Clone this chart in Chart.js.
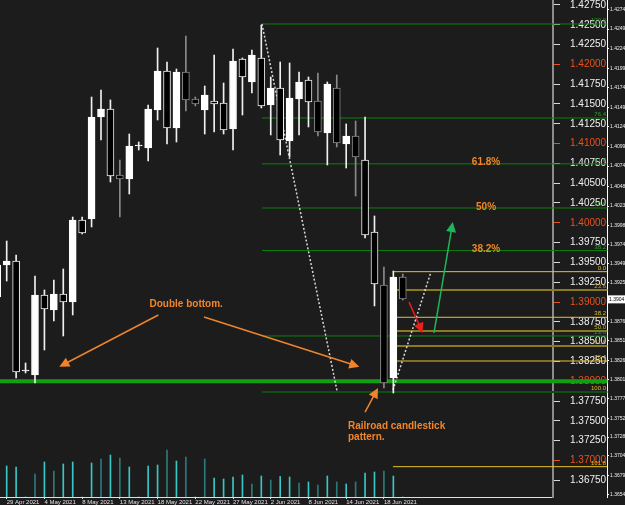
<!DOCTYPE html>
<html>
<head>
<meta charset="utf-8">
<script src="https://cdn.jsdelivr.net/npm/chart.js@4.4.0/dist/chart.umd.min.js"></script>
<style>
  html, body { margin: 0; padding: 0; background: #1c1c1c; }
  #wrap { width: 625px; height: 505px; }
</style>
</head>
<body>
<div id="wrap"><canvas id="chart" width="625" height="505"></canvas></div>
<script>
// candle index of the first entry (one half-hidden candle left of 29 Apr)
const firstCandle = -1;

const opens  = [1.39063, 1.39467, 1.39518, 1.38129, 1.38078, 1.39088, 1.38899, 1.39101, 1.39000, 1.40035,
                1.40048, 1.41336, 1.41437, 1.40604, 1.40553, 1.40970, 1.40944, 1.41424, 1.41917, 1.41197,
                1.41904, 1.41563, 1.41424, 1.41538, 1.41513, 1.41184, 1.42068, 1.41778, 1.42081, 1.41487,
                1.41702, 1.41033, 1.41563, 1.41803, 1.41538, 1.41134, 1.41702, 1.40995, 1.41096, 1.40793,
                1.39884, 1.39215, 1.38040, 1.39316];
const highs  = [1.39560, 1.39770, 1.39594, 1.38230, 1.39328, 1.39152, 1.39278, 1.39417, 1.40073, 1.40073,
                1.41588, 1.41677, 1.41551, 1.40793, 1.41121, 1.41020, 1.41487, 1.42207, 1.42030, 1.41942,
                1.42359, 1.41588, 1.41727, 1.42119, 1.41765, 1.42194, 1.42081, 1.42182, 1.42497, 1.41841,
                1.42030, 1.42018, 1.41904, 1.41841, 1.41891, 1.41778, 1.41866, 1.41248, 1.41285, 1.41336,
                1.40086, 1.39442, 1.39391, 1.39353];
const lows   = [1.39025, 1.39265, 1.38040, 1.38104, 1.37977, 1.38394, 1.38760, 1.38571, 1.38836, 1.39859,
                1.39947, 1.41045, 1.40515, 1.40073, 1.40364, 1.40919, 1.40780, 1.41298, 1.40995, 1.41020,
                1.41412, 1.41475, 1.41121, 1.41146, 1.41121, 1.40919, 1.41361, 1.41639, 1.41450, 1.41109,
                1.40856, 1.40831, 1.41109, 1.41210, 1.41096, 1.40730, 1.40957, 1.40692, 1.40338, 1.39808,
                1.38950, 1.37914, 1.37851, 1.39025];
const closes = [1.39467, 1.39518, 1.38116, 1.38141, 1.39088, 1.38912, 1.39101, 1.39000, 1.40035, 1.39871,
                1.41336, 1.41437, 1.40591, 1.40553, 1.40970, 1.40982, 1.41437, 1.41917, 1.41197, 1.41904,
                1.41551, 1.41500, 1.41614, 1.41500, 1.41172, 1.42043, 1.41841, 1.42119, 1.41475, 1.41702,
                1.41045, 1.41576, 1.41778, 1.41525, 1.41146, 1.41753, 1.41008, 1.41096, 1.40831, 1.39846,
                1.39227, 1.37977, 1.39316, 1.39038];
const volumes = [0, 3100, 3000, 0, 2300, 3500, 2600, 3300, 3500, 0,
                 3400, 3800, 4200, 3900, 3000, 0, 3100, 3200, 4700, 3600,
                 4000, 0, 3800, 1900, 1800, 2000, 2200, 1300, 2100, 1700,
                 2050, 2000, 1400, 1500, 1200, 2100, 1500, 1300, 1500, 2400,
                 2500, 2600, 2100, 0];

const dates = ['29 Apr 2021', '4 May 2021', '8 May 2021', '13 May 2021', '18 May 2021', '22 May 2021',
               '27 May 2021', '2 Jun 2021', '8 Jun 2021', '14 Jun 2021', '18 Jun 2021'];
const priceTicks = [1.3675, 1.37, 1.3725, 1.375, 1.3775, 1.38, 1.3825, 1.385, 1.3875, 1.39, 1.3925,
                    1.395, 1.3975, 1.40, 1.4025, 1.405, 1.4075, 1.41, 1.4125, 1.415, 1.4175, 1.42,
                    1.4225, 1.425, 1.4275];
// the narrow price strip at the far right
const stripTicks = [1.4274, 1.4249, 1.4224, 1.4199, 1.4174, 1.4149, 1.4124, 1.4099, 1.4074, 1.4048,
                    1.4023, 1.3998, 1.3974, 1.3949, 1.3925, 1.3876, 1.3851, 1.3826, 1.3801, 1.3777,
                    1.3752, 1.3728, 1.3704, 1.3679, 1.3654];

// fibonacci levels and the support line
const greenFib = [1.42510, 1.41323, 1.40744, 1.40187, 1.39650, 1.38571];
const greenFibNames = ['100.0', '76.4', '61.8', '50.0', '38.2', '23.6'];
const greenFibLow = 1.37864;
const yellowFib = [1.39383, 1.38807, 1.38255, 1.37864, 1.36921];
const yellowFibNames = ['0.0', '38.2', '76.4', '100.0', '161.8'];
const oliveFib = [1.39152, 1.38634, 1.38444];
const oliveFibNames = ['23.6', '50.0', '61.8'];
const support = 1.38000;

// annotations in (candle index, price)
const arrows = [
  { from: [16.08, 1.38836], to: [5.58, 1.38183], color: '#f0842a' },
  { from: [20.92, 1.38811], to: [37.39, 1.38183], color: '#f0842a' },
  { from: [38.0, 1.37610], to: [39.37, 1.37914], color: '#f0842a' },
  { from: [45.31, 1.38609], to: [47.30, 1.40010], color: '#1fb55a' },
  { from: [42.66, 1.39000], to: [44.11, 1.38609], color: '#e82020' }
];
const dotted = [
  [[27.07, 1.42510], [35.03, 1.37877]],
  [[40.96, 1.37889], [44.99, 1.39379]]
];
const notes = [
  { text: 'Double bottom.', x: 19.03, p: 1.38975, align: 'center' },
  { text: 'Railroad candlestick', x: 36.19, p: 1.37434, align: 'left' },
  { text: 'pattern.', x: 36.19, p: 1.37295, align: 'left' },
  { text: '61.8%', x: 50.83, p: 1.40760, align: 'center' },
  { text: '50%', x: 50.83, p: 1.40198, align: 'center' },
  { text: '38.2%', x: 50.83, p: 1.39661, align: 'center' }
];

const greyOutline = [12, 19, 20, 33, 35, 37, 40, 42];
const dimVolume = [3, 5, 10, 12, 17, 19, 21, 26, 28, 31, 33, 35, 37, 40];

const orange = '#f0862a';
const roundColor = '#e8521c';
const xMin = -0.71, xMax = 57.93, xFar = 63.7, xLabel = 63.55;
const yMin = 1.36538, yMax = 1.42813;
const stripMin = 1.36514, stripMax = 1.42861;

const idx = opens.map((_, k) => k + firstCandle);
const isBull = k => closes[k] >= opens[k];
const edge = k => greyOutline.includes(idx[k]) ? '#8a8a8a' : '#f0f0f0';
const isRound = v => Math.abs(v * 100 - Math.round(v * 100)) < 1e-6;
const noPad = s => { s.paddingLeft = 0; s.paddingRight = 0; s.paddingTop = 0; s.paddingBottom = 0; };

function hline(level, from, color, width) {
  return {
    type: 'line', data: [{ x: from, y: level }, { x: xFar, y: level }],
    borderColor: color, borderWidth: width, pointRadius: 0, clip: false, order: 5, yAxisID: 'y'
  };
}

const datasets = [
  {
    data: idx.map((x, k) => ({ x, y: volumes[k] })), yAxisID: 'yv', barThickness: 1, grouped: false, order: 4,
    backgroundColor: idx.map(x => dimVolume.includes(x) ? '#2c7a78' : '#38c6c6')
  },
  {
    data: idx.map((x, k) => ({ x, y: [lows[k], highs[k]] })), yAxisID: 'y', barThickness: 1, grouped: false, order: 1,
    backgroundColor: idx.map((_, k) => edge(k))
  },
  {
    data: idx.map((x, k) => ({ x, y: [opens[k], closes[k]] })), yAxisID: 'y', barThickness: 7, grouped: false, order: 0,
    minBarLength: 1, borderWidth: 1, borderSkipped: false,
    backgroundColor: idx.map((_, k) => isBull(k) ? '#ffffff' : '#000000'),
    borderColor: idx.map((_, k) => isBull(k) ? '#ffffff' : edge(k))
  }
];
greenFib.forEach(l => datasets.push(hline(l, 27.07, '#0b800b', 1)));
datasets.push(hline(greenFibLow, 27.07, '#0f4f10', 2));
datasets.push(hline(support, xMin, '#12a012', 4));
yellowFib.filter(l => l !== greenFibLow).forEach(l => datasets.push(hline(l, 40.96, '#e6c229', 1)));
oliveFib.forEach(l => datasets.push(hline(l, 40.96, '#8a7a1c', 2)));
dotted.forEach(([a, b]) => datasets.push({
  type: 'line', data: [{ x: a[0], y: a[1] }, { x: b[0], y: b[1] }], yAxisID: 'y',
  borderColor: '#d8d8d8', borderWidth: 1.5, borderDash: [2, 2], pointRadius: 0, order: 2
}));

const overlay = {
  id: 'overlay',
  afterDatasetsDraw(chart) {
    const { ctx } = chart;
    const x = chart.scales.x, y = chart.scales.y, ys = chart.scales.ys;
    ctx.save();
    arrows.forEach(a => {
      const x1 = x.getPixelForValue(a.from[0]), y1 = y.getPixelForValue(a.from[1]);
      const x2 = x.getPixelForValue(a.to[0]), y2 = y.getPixelForValue(a.to[1]);
      const ang = Math.atan2(y2 - y1, x2 - x1);
      ctx.strokeStyle = a.color; ctx.fillStyle = a.color; ctx.lineWidth = 1.5;
      ctx.beginPath(); ctx.moveTo(x1, y1);
      ctx.lineTo(x2 - 8 * Math.cos(ang), y2 - 8 * Math.sin(ang)); ctx.stroke();
      ctx.beginPath(); ctx.moveTo(x2, y2);
      ctx.lineTo(x2 - 10 * Math.cos(ang) + 5 * Math.sin(ang), y2 - 10 * Math.sin(ang) - 5 * Math.cos(ang));
      ctx.lineTo(x2 - 10 * Math.cos(ang) - 5 * Math.sin(ang), y2 - 10 * Math.sin(ang) + 5 * Math.cos(ang));
      ctx.closePath(); ctx.fill();
    });
    ctx.font = 'bold 10px "Liberation Sans", Arial, sans-serif';
    ctx.fillStyle = orange;
    ctx.textBaseline = 'middle';
    notes.forEach(n => {
      ctx.textAlign = n.align;
      ctx.fillText(n.text, x.getPixelForValue(n.x), y.getPixelForValue(n.p));
    });

    // small level names at the right end of each fibonacci line
    ctx.font = '6px "Liberation Sans", Arial, sans-serif';
    ctx.textAlign = 'right';
    ctx.textBaseline = 'bottom';
    const lx = x.getPixelForValue(xLabel);
    const tag = (levels, names, color) => {
      ctx.fillStyle = color;
      levels.forEach((l, k) => ctx.fillText(names[k], lx, y.getPixelForValue(l) - 0.5));
    };
    tag(greenFib, greenFibNames, '#2aa02a');
    tag(yellowFib, yellowFibNames, '#e0bc2a');
    tag(oliveFib, oliveFibNames, '#c8aa2a');

    // current price box on the strip
    const last = closes[closes.length - 1];
    const py = ys.getPixelForValue(last);
    ctx.fillStyle = '#ffffff';
    ctx.fillRect(ys.left + 1, py - 4, ys.right - ys.left - 1, 8);
    ctx.fillStyle = '#000000';
    ctx.font = '5px "Liberation Sans", Arial, sans-serif';
    ctx.textAlign = 'left';
    ctx.textBaseline = 'middle';
    ctx.fillText(last.toFixed(4), ys.left + 2, py);
    ctx.restore();
  }
};

new Chart(document.getElementById('chart'), {
  type: 'bar',
  data: { datasets },
  options: {
    responsive: false,
    animation: false,
    layout: { padding: 0 },
    plugins: { legend: { display: false }, tooltip: { enabled: false } },
    scales: {
      x: {
        type: 'linear', min: xMin, max: xMax, offset: false,
        afterBuildTicks: s => { s.ticks = dates.map((_, k) => ({ value: k * 4 })); },
        afterFit: s => { s.height = 8; noPad(s); },
        border: { color: '#e0e0e0', width: 1 },
        grid: { offset: false, drawOnChartArea: false, drawTicks: true, tickLength: 2, tickColor: '#e0e0e0' },
        ticks: {
          color: '#e0e0e0', font: { size: 6, family: 'Liberation Sans' }, padding: 0,
          align: 'start', maxRotation: 0, autoSkip: false,
          callback: (v, i) => dates[i]
        }
      },
      y: {
        position: 'right', min: yMin, max: yMax,
        afterBuildTicks: s => { s.ticks = priceTicks.map(v => ({ value: v })); },
        afterFit: s => { s.width = 54; noPad(s); },
        border: { color: '#8c8c8c', width: 2 },
        grid: {
          drawOnChartArea: false, drawTicks: true, tickLength: 7,
          tickColor: c => isRound(c.tick.value) ? roundColor : '#d8d8d8'
        },
        ticks: {
          padding: 10, font: { size: 10, family: 'Liberation Sans' },
          color: c => isRound(c.tick.value) ? roundColor : '#f0f0f0',
          callback: v => v.toFixed(5)
        }
      },
      ys: {
        position: 'right', weight: 1, min: stripMin, max: stripMax,
        afterBuildTicks: s => { s.ticks = stripTicks.map(v => ({ value: v })); },
        afterFit: s => { s.width = 18; noPad(s); },
        border: { color: '#ffffff', width: 1 },
        grid: { drawOnChartArea: false, drawTicks: true, tickLength: 2, tickColor: '#ffffff' },
        ticks: { padding: 1, font: { size: 5, family: 'Liberation Sans' }, color: '#f0f0f0', callback: v => v.toFixed(4) }
      },
      yv: { display: false, min: 0, max: 49700 }
    }
  },
  plugins: [overlay]
});
</script>
</body>
</html>
